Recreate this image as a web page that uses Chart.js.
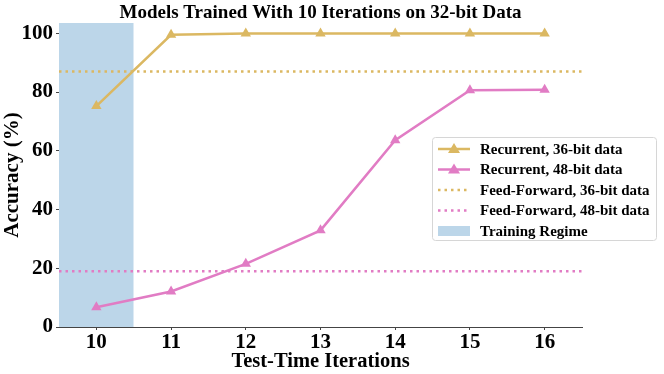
<!DOCTYPE html>
<html>
<head>
<meta charset="utf-8">
<script src="https://cdn.jsdelivr.net/npm/chart.js@4"></script>
<style>
  html, body { margin: 0; padding: 0; background: #fff; }
  #wrap { width: 664px; height: 374px; }
</style>
</head>
<body>
<div id="wrap"><canvas id="chart" width="664" height="374"></canvas></div>
<script>
// Values
const iterations     = [10, 11, 12, 13, 14, 15, 16];
const recurrent36    = [75.2, 99.5, 99.9, 99.9, 99.9, 99.9, 99.9];
const recurrent48    = [6.7, 12.1, 21.5, 32.9, 63.6, 80.6, 80.8];
const feedForward36  = 87.0;
const feedForward48  = 19.0;
const trainingRegime = [9.5, 10.5];
const xRange         = [9.5, 16.5];
const yTicks         = [0, 20, 40, 60, 80, 100];
const yMax           = 103.5;

const GOLD  = "#dbb862";
const PINK  = "#e17cc4";
const SHADE = "#bcd6e9";
const SERIF = "'Liberation Serif', 'Times New Roman', serif";

const toPoints = (xs, ys) => xs.map((x, i) => ({ x: x, y: ys[i] }));
const flat = (v) => xRange.map(x => ({ x: x, y: v }));

// Legend sits over the plot and sticks out past its right edge, so draw it ourselves
const floatingLegend = {
  id: 'floatingLegend',
  afterDraw(chart) {
    const ctx = chart.ctx;
    const x0 = 432, y0 = 137, w = 224, h = 103;
    ctx.save();
    ctx.fillStyle = "rgba(255,255,255,0.85)";
    ctx.strokeStyle = "#d6d6d6";
    ctx.lineWidth = 1;
    ctx.beginPath();
    ctx.roundRect(x0 + 0.5, y0 + 0.5, w, h, 3);
    ctx.fill();
    ctx.stroke();

    const rows = [
      { label: "Recurrent, 36-bit data",    color: GOLD, kind: "line" },
      { label: "Recurrent, 48-bit data",    color: PINK, kind: "line" },
      { label: "Feed-Forward, 36-bit data", color: GOLD, kind: "dot" },
      { label: "Feed-Forward, 48-bit data", color: PINK, kind: "dot" },
      { label: "Training Regime",           color: SHADE, kind: "box" }
    ];
    ctx.font = "bold 15px " + SERIF;
    ctx.textBaseline = "middle";
    rows.forEach((r, i) => {
      const y = y0 + 12 + i * 20.5;
      const hx0 = x0 + 6, hx1 = x0 + 38;
      if (r.kind === "box") {
        ctx.fillStyle = r.color;
        ctx.fillRect(hx0, y - 5, hx1 - hx0, 10);
      } else {
        ctx.strokeStyle = r.color;
        ctx.lineWidth = 2.5;
        ctx.setLineDash(r.kind === "dot" ? [2.5, 4] : []);
        ctx.beginPath();
        ctx.moveTo(hx0, y);
        ctx.lineTo(hx1, y);
        ctx.stroke();
        ctx.setLineDash([]);
        if (r.kind === "line") {
          ctx.fillStyle = r.color;
          const cx = (hx0 + hx1) / 2;
          ctx.beginPath();
          ctx.moveTo(cx, y - 6);
          ctx.lineTo(cx + 6, y + 4);
          ctx.lineTo(cx - 6, y + 4);
          ctx.closePath();
          ctx.fill();
        }
      }
      ctx.fillStyle = "#000";
      ctx.fillText(r.label, x0 + 48, y + 1);
    });
    ctx.restore();
  }
};

const ctx = document.getElementById("chart").getContext('2d');

new Chart(ctx, {
  type: 'line',
  data: {
    datasets: [
      {
        label: "Recurrent, 36-bit data",
        data: toPoints(iterations, recurrent36),
        borderColor: GOLD,
        backgroundColor: GOLD,
        borderWidth: 2.5,
        pointStyle: 'triangle',
        pointRadius: 6,
        pointBorderWidth: 0,
        order: 1
      },
      {
        label: "Recurrent, 48-bit data",
        data: toPoints(iterations, recurrent48),
        borderColor: PINK,
        backgroundColor: PINK,
        borderWidth: 2.5,
        pointStyle: 'triangle',
        pointRadius: 6,
        pointBorderWidth: 0,
        order: 2
      },
      {
        label: "Feed-Forward, 36-bit data",
        data: flat(feedForward36),
        borderColor: GOLD,
        borderWidth: 2.5,
        borderDash: [2.5, 4],
        pointRadius: 0,
        order: 3
      },
      {
        label: "Feed-Forward, 48-bit data",
        data: flat(feedForward48),
        borderColor: PINK,
        borderWidth: 2.5,
        borderDash: [2.5, 4],
        pointRadius: 0,
        order: 4
      },
      {
        label: "Training Regime",
        data: trainingRegime.map(x => ({ x: x, y: yMax })),
        borderWidth: 0,
        borderColor: 'rgba(0,0,0,0)',
        backgroundColor: SHADE,
        fill: 'origin',
        pointRadius: 0,
        order: 10
      }
    ]
  },
  options: {
    responsive: false,
    animation: false,
    layout: { padding: { left: 0, right: 82, top: 0, bottom: 0 } },
    plugins: {
      legend: { display: false },
      tooltip: { enabled: false },
      title: {
        display: true,
        fullSize: false,
        text: "Models Trained With 10 Iterations on 32-bit Data",
        color: "#000",
        font: { family: SERIF, size: 19, weight: 'bold', lineHeight: 1.0 },
        padding: { top: 4, bottom: 0 }
      }
    },
    scales: {
      x: {
        type: 'linear',
        min: xRange[0],
        max: xRange[1],
        afterBuildTicks: (s) => { s.ticks = iterations.map(v => ({ value: v })); },
        afterFit: (s) => { s.height = 47; },
        grid: { drawOnChartArea: false, drawTicks: true, tickLength: 3, color: "#444" },
        border: { display: true, color: "#444", width: 1 },
        ticks: { color: "#000", padding: 0, font: { family: SERIF, size: 21, weight: 'bold' } },
        title: {
          display: true, text: "Test-Time Iterations", color: "#000",
          padding: { top: 0, bottom: 0 },
          font: { family: SERIF, size: 20.5, weight: 'bold' }
        }
      },
      y: {
        min: 0,
        max: yMax,
        afterBuildTicks: (s) => { s.ticks = yTicks.map(v => ({ value: v })); },
        afterFit: (s) => { s.width = 59; },
        grid: { drawOnChartArea: false, drawTicks: true, tickLength: 3, color: "#444" },
        border: { display: true, color: "#444", width: 1 },
        ticks: { color: "#000", padding: 3, font: { family: SERIF, size: 21, weight: 'bold' } },
        title: {
          display: true, text: "Accuracy (%)", color: "#000",
          padding: { top: 0, bottom: 1 },
          font: { family: SERIF, size: 21, weight: 'bold' }
        }
      }
    }
  },
  plugins: [floatingLegend]
});
</script>
</body>
</html>
